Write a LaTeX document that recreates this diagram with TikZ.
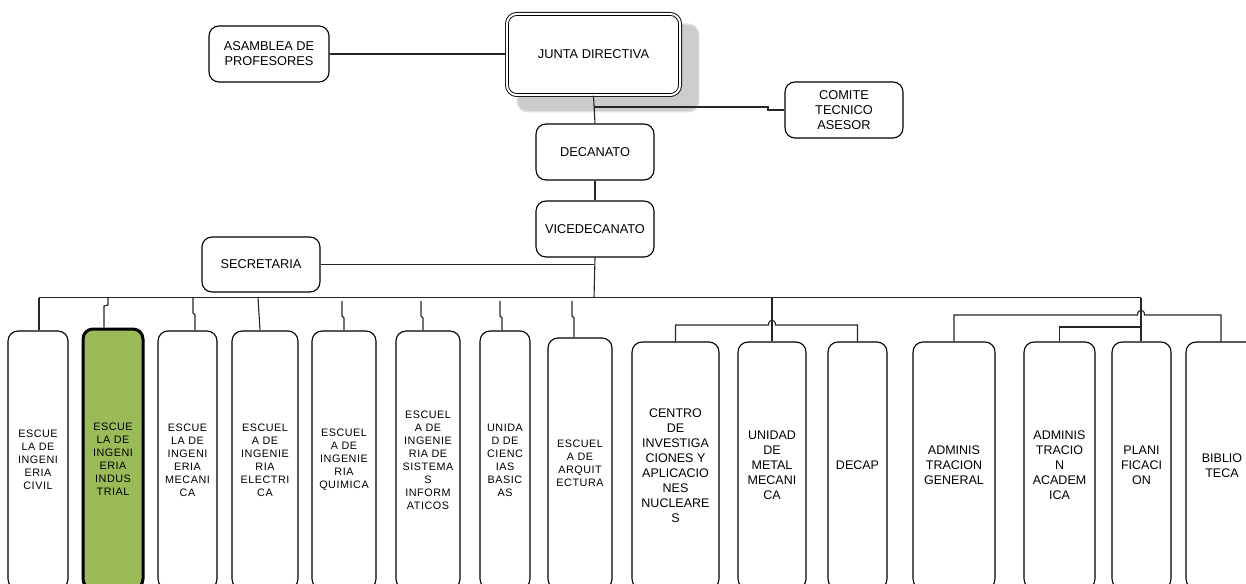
\documentclass[tikz,border=0pt]{standalone}
\usepackage{fontspec}
\setmainfont{Liberation Sans}
\newfontfamily\spacedfont[LetterSpace=5]{Liberation Sans}
\usetikzlibrary{calc}
\definecolor{leafgreen}{HTML}{9BBB59}
\definecolor{shadowgray}{HTML}{CCCCCC}
\definecolor{wirecol}{HTML}{262626}

\begin{document}
\begin{tikzpicture}[x=1pt,y=-1pt,
  box/.style={draw=black, line width=1.1pt, rounded corners=10pt, fill=white,
              inner sep=0pt, align=center, text=black},
  topbox/.style={box, font=\fontsize{12.8}{15}\selectfont},
  school/.style={box, font=\spacedfont\fontsize{10.8}{13}\selectfont,
                 minimum height=258pt},
  unit/.style={box, font=\fontsize{12.5}{15}\selectfont, minimum height=247pt},
  wire/.style={draw=wirecol, line width=1.1pt},
]
\useasboundingbox (0,0) rectangle (1246,583);
\clip (0,0) rectangle (1246,583);

% ---- governing bodies ----
\fill[shadowgray!60, rounded corners=11pt] (516.5,23.5) rectangle (699.5,112.5);
\fill[shadowgray, rounded corners=10pt] (518,25) rectangle (698,111);
\node[box, draw=black, line width=0.9pt, double=white, double distance=2pt,
      minimum width=173.2pt, minimum height=81.2pt,
      font=\fontsize{12.8}{15}\selectfont] (junta) at (593.5,54.5) {JUNTA DIRECTIVA};

\node[topbox, minimum width=120pt, minimum height=56pt] (asam) at (269,54) {ASAMBLEA DE\\PROFESORES};
\node[topbox, minimum width=118pt, minimum height=56pt] (comite) at (844,110) {COMITE\\TECNICO\\ASESOR};
\node[topbox, minimum width=118pt, minimum height=56pt] (dec) at (595,152) {DECANATO};
\node[topbox, minimum width=118pt, minimum height=56pt] (vice) at (595,229) {VICEDECANATO};
\node[topbox, minimum width=118pt, minimum height=55pt] (sec) at (261,264.5) {SECRETARIA};

\draw[wire] (asam.east) -- (asam.east -| junta.west);
\draw[wire] (junta.south) -- (dec.north);
\coordinate (jc) at (594,107);
\draw[wire] (jc) -- (768,107) -- (768,110) -- (comite.west);
\draw[wire] (dec.south) -- (vice.north);
\coordinate (hub) at (594,297.5);
\draw[wire] (vice.south) -- (hub);
\draw[wire] (sec.east) -- (sec.east -| hub);

% ---- schools ----
\node[school] (b1) at (38,460)    [minimum width=60pt] {ESCUE\\LA DE\\INGENI\\ERIA\\CIVIL};
\node[school, fill=leafgreen, line width=3pt, minimum height=260pt]
                (b2) at (113,459) [minimum width=60pt] {ESCUE\\LA DE\\INGENI\\ERIA\\INDUS\\TRIAL};
\node[school] (b3) at (187.5,460) [minimum width=59pt] {ESCUE\\LA DE\\INGENI\\ERIA\\MECANI\\CA};
\node[school] (b4) at (265,460)   [minimum width=66pt] {ESCUEL\\A DE\\INGENIE\\RIA\\ELECTRI\\CA};
\node[school] (b5) at (344,460)   [minimum width=64pt] {ESCUEL\\A DE\\INGENIE\\RIA\\QUIMICA};
\node[school] (b6) at (428,460)   [minimum width=64pt] {ESCUEL\\A DE\\INGENIE\\RIA DE\\SISTEMA\\S\\INFORM\\ATICOS};
\node[school] (b7) at (505,460)   [minimum width=50pt] {UNIDA\\D DE\\CIENC\\IAS\\BASIC\\AS};
\node[school, minimum height=251pt] (b8) at (580,463.5) [minimum width=64pt] {ESCUEL\\A DE\\ARQUIT\\ECTURA};

% ---- units ----
\node[unit] (b9)  at (675.5,465.5) [minimum width=87pt] {CENTRO\\DE\\INVESTIGA\\CIONES Y\\APLICACIO\\NES\\NUCLEARE\\S};
\node[unit] (b10) at (772,465.5)   [minimum width=68pt] {UNIDAD\\DE\\METAL\\MECANI\\CA};
\node[unit] (b11) at (857.5,465.5) [minimum width=59pt] {DECAP};
\node[unit] (b12) at (954,465.5)   [minimum width=82pt] {ADMINIS\\TRACION\\GENERAL};
\node[unit] (b13) at (1059.5,465.5)[minimum width=71pt] {ADMINIS\\TRACIO\\N\\ACADEM\\ICA};
\node[unit] (b14) at (1141.5,465.5)[minimum width=59pt] {PLANI\\FICACI\\ON};
\node[unit] (b15) at (1222,465.5)  [minimum width=72pt] {BIBLIO\\TECA};

% ---- distribution line ----
\coordinate (m0) at (39,297.5);
\coordinate (m1) at (1141,297.5);
\draw[wire] (m0) -- (m1);

\coordinate (f2) at (108,297.5);
\coordinate (f3) at (193,297.5);
\coordinate (f4) at (258,297.5);
\coordinate (f5) at (342,301);
\coordinate (f6) at (421,301);
\coordinate (f7) at (500,301);
\coordinate (f8) at (572,301);
\draw[wire] (m0) -- (m0 |- b1.north);
\draw[wire] (f2) -- ++(0,7.5) -- ++(-4,1) -- ($(b2.north)+(-9,0)$);
\draw[wire] (f3) -- ++(0,15.5) -- ++(2,2) -- ($(b3.north)+(7.5,0)$);
\draw[wire] (f4) -- ($(b4.north)+(-5,0)$);
\draw[wire] (f5) -- ++(0,15) -- ++(2,2) -- (b5.north);
\draw[wire] (f6) -- ++(0,15) -- ++(2,2) -- ($(b6.north)+(-5,0)$);
\draw[wire] (f7) -- ++(0,15) -- ++(2,2) -- ($(b7.north)+(-3,0)$);
\draw[wire] (f8) -- ++(0,15) -- ++(2,2) -- ($(b8.north)+(-6,0)$);

% research and service units
\draw[wire] (772,297.5) -- (b10.north);
\draw[wire] (b9.north) -- (675.5,325) -- (768.5,325)
  .. controls (768.5,318.5) and (775.5,318.5) .. (775.5,325)
  -- (857.5,325) -- (b11.north);

% administration
\draw[wire] (m1) -- (m1 |- b14.north);
\draw[wire] (b12.north) -- (954,315) -- (1137.5,315)
  .. controls (1137.5,308.5) and (1144.5,308.5) .. (1144.5,315)
  -- (1221,315) -- (1221,342);
\draw[wire] (b13.north) -- (1059.5,327) -- (1141,327);
\end{tikzpicture}
\end{document}
